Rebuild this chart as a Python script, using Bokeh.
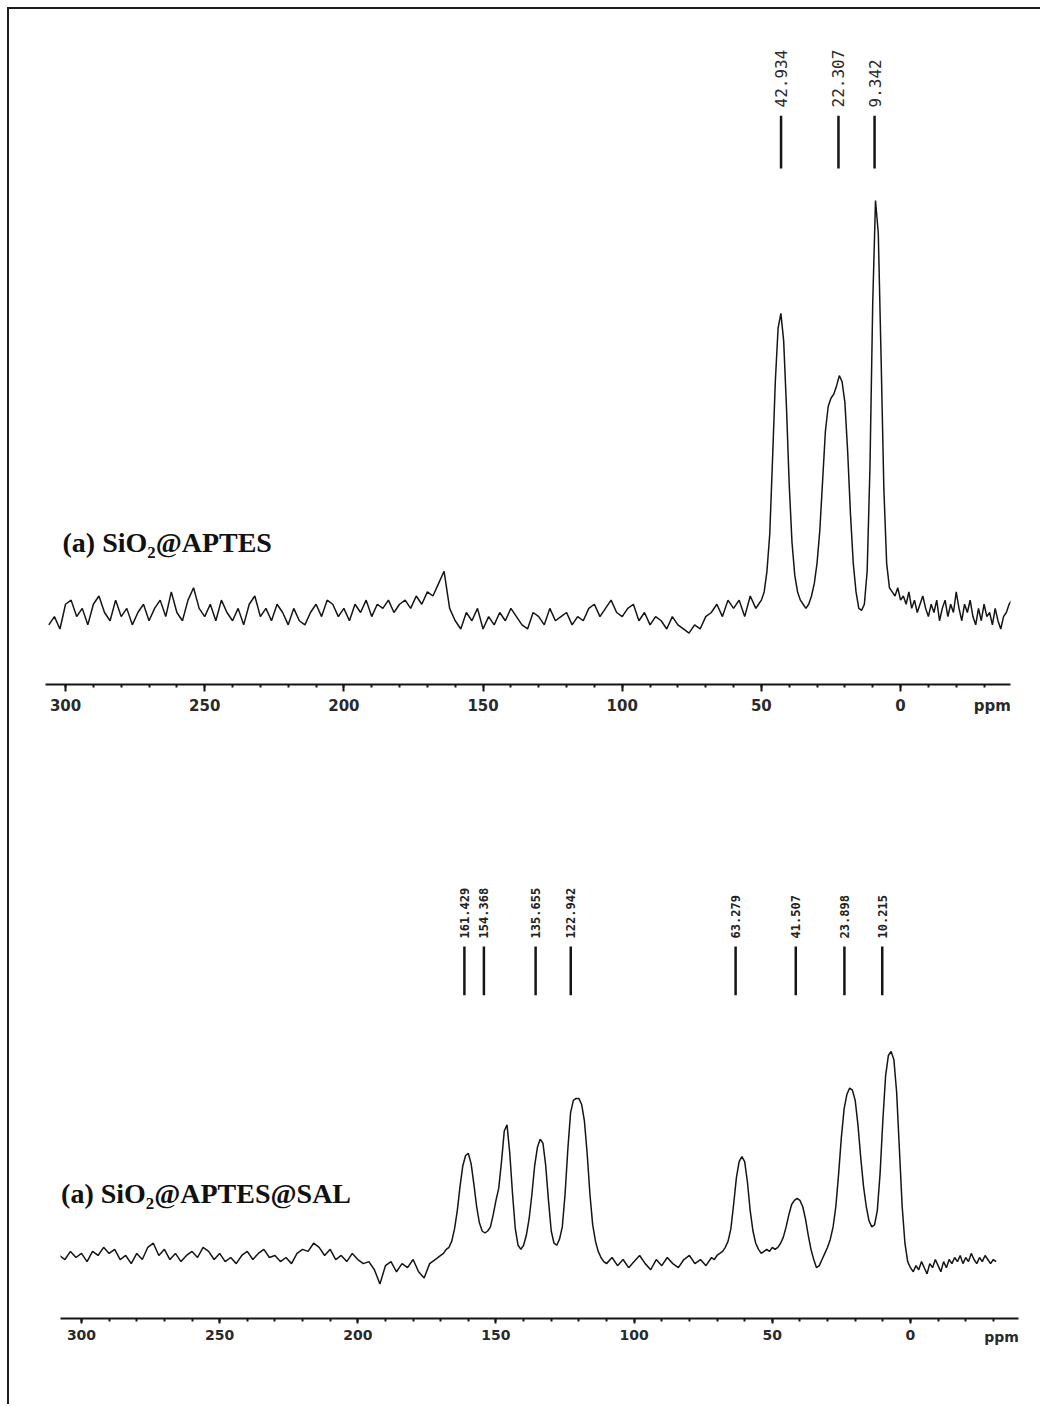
from math import pi

from bokeh.plotting import figure
from bokeh.models import Range1d, SingleIntervalTicker, FixedTicker, LinearAxis, Label
from bokeh.core.properties import value
from bokeh.embed import file_html
from bokeh.resources import INLINE

# ---------------------------------------------------------------- data
# 13C CP-MAS spectra, intensity normalised so the tallest peak = 100.
# Each spectrum is stored as segments: (first ppm, ppm step, intensities).

apt_seg1_start, apt_seg1_step = 306, 2
apt_seg1 = [
    -3, -1, -4, 2, 3, -1, 1, -3, 2, 4, 0, -2, 3, -1, 1, -3, 0, 2, -2, 1,
    3, -1, 5, 0, -2, 3, 6, 1, -1, 2, -2, 3, 0, -2, 1, -3, 2, 4, -1, 1,
    -2, 2, 0, -3, 1, -2, -3, 0, 2, -1, 3, 2, -1, 1, -2, 2, 0, 3, -1, 2,
    1, 3, 0, 2, 3, 1, 4, 2, 5, 4, 7, 10, 1, -2, -4, 0, -2, 1, -4, -1,
    -3, 0, -2, 1, -1, -3, -4, 0, -1, -3, 1, -2, -1, 0, -3, -1, -2, 1, 2, -1,
    1, 3, 0, -1, 1, 2, -2, 0, -3, -1, -2, -4, -1, -3, -4, -5, -3, -4, -1, 0,
    2, -1, 3, 1, 3, -1, 4, 1,
]
apt_seg2_start, apt_seg2_step = 51, 1
apt_seg2 = [
    2, 3, 5, 10, 19, 37, 56, 69, 72.6, 66, 50, 31, 17, 9, 5, 3, 2, 1, 2, 4,
    7, 12, 20, 32, 44, 50, 52, 53, 55, 57.5, 56, 51, 39, 24, 12, 5, 1, 0.5, 2, 10,
    35, 75, 100, 92, 62, 30, 12, 6, 5, 4, 6, 3, 4, 2, 5, 1, 3, 0, 2, 4,
    1, -1, 2, 0, 3, -2, 1, 3, -1, 2, 0, 5, 1, -2, 2, 0, 3, -1, -3, 1,
    -2, 2, -1, 0, -3, 1, -2, -4, -1, 0, 2, 3, 4,
]

sal_seg1_start, sal_seg1_step = 308, 2
sal_seg1 = [
    0, -2, 2, -1, 1, -3, 2, 0, 4, 1, 3, -2, 0, -4, 1, -2, 4, 6, 0, 3,
    -2, 1, -3, 0, 2, -1, 4, 2, -2, 1, -3, -1, -4, 0, 2, -2, 1, 3, -1, 0,
    -3, -1, -4, 1, 3, 2, 6, 4, 0, 3, -2, 0, -3, 1, -2, -4, -3, -7, -14, -5,
    -3, -8, -4, -6, -2, -8, -11, -4, -2, 0,
]
sal_seg2_start, sal_seg2_step = 169, 1
sal_seg2 = [
    1, 3, 4, 7, 13, 22, 34, 44, 49, 50, 45, 35, 24, 16, 12, 11, 12, 14, 20, 27,
    33, 46, 61, 64, 50, 30, 13, 5, 3, 5, 10, 18, 30, 44, 53, 57, 55, 44, 27, 12,
    6, 5, 8, 14, 30, 52, 70, 76, 77, 77, 74, 66, 50, 30, 15, 7, 2, -1, -3,
]
sal_seg3_start, sal_seg3_step = 110, 2
sal_seg3 = [-4, -1, -5, -2, -6, -3, 0, -4, -7, -2, -5, -1, -4, -6, -2, 0, -4, -2, -5, -1]
sal_seg4_start, sal_seg4_step = 71, 1
sal_seg4 = [
    -2, 0, 1, 2, 4, 7, 13, 25, 38, 46, 48.5, 46, 36, 22, 12, 6, 3, 1, 2, 3,
    2, 4, 3, 4, 6, 9, 14, 20, 25, 27, 28, 27, 24, 18, 10, 3, -2, -6, -5, -2,
    1, 4, 8, 14, 24, 40, 58, 72, 79, 82, 81, 76, 64, 48, 34, 24, 17, 14, 15, 22,
    40, 66, 88, 98, 100, 96, 80, 52, 24, 6, -3, -6, -8, -5, -7, -3, -6, -9, -4, -6,
    -2, -5, -8, -3, -6, -2, -4, -1, -3, 0, -4, -1, -3, 1, -2, -4, -1, -3, 0, -2,
    -4, -2, -3,
]

apt_peaks = [42.934, 22.307, 9.342]
apt_peak_labels = ["42.934", "22.307", "9.342"]
sal_peaks = [161.429, 154.368, 135.655, 122.942, 63.279, 41.507, 23.898, 10.215]
sal_peak_labels = ["161.429", "154.368", "135.655", "122.942", "63.279", "41.507", "23.898", "10.215"]

apt_name = "(a) SiO₂@APTES"
sal_name = "(a) SiO₂@APTES@SAL"

axis_unit = "ppm"
axis_unit_pos = -33


def expand(*segments):
    xs, ys = [], []
    for start, step, vals in segments:
        xs += [start - step * i for i in range(len(vals))]
        ys += list(vals)
    return xs, ys


apt_x, apt_y = expand((apt_seg1_start, apt_seg1_step, apt_seg1),
                      (apt_seg2_start, apt_seg2_step, apt_seg2))
sal_x, sal_y = expand((sal_seg1_start, sal_seg1_step, sal_seg1),
                      (sal_seg2_start, sal_seg2_step, sal_seg2),
                      (sal_seg3_start, sal_seg3_step, sal_seg3),
                      (sal_seg4_start, sal_seg4_step, sal_seg4))

INK = "#151515"
LABEL_INK = "#2a2a2a"
FRAME = "2px solid #1e1e1e"


def panel(width, height, xr, yr, borders, tick_font_size, tick_out, standoff, unit_standoff,
          margin, styles):
    p = figure(width=width, height=height, x_range=Range1d(*xr), y_range=Range1d(*yr),
               output_backend="svg", toolbar_location=None, y_axis_location=None,
               min_border_left=borders[0], min_border_right=borders[1],
               min_border_top=borders[2], min_border_bottom=borders[3],
               margin=margin, styles=styles)
    p.outline_line_color = None
    p.grid.visible = False
    p.background_fill_color = "white"
    p.border_fill_color = "white"

    # chemical-shift scale: line, major ticks every 50 ppm, minor every 10 ppm
    ax = p.xaxis[0]
    ax.ticker = SingleIntervalTicker(interval=50, num_minor_ticks=5)
    ax.axis_line_color = INK
    ax.axis_line_width = 2
    ax.major_tick_line_color = INK
    ax.major_tick_line_width = 2
    ax.major_tick_in = 0
    ax.major_tick_out = tick_out
    ax.minor_tick_line_color = INK
    ax.minor_tick_line_width = 2
    ax.minor_tick_in = 0
    ax.minor_tick_out = 3
    ax.major_label_text_font = "DejaVu Sans"
    ax.major_label_text_font_style = "bold"
    ax.major_label_text_font_size = tick_font_size
    ax.major_label_text_color = LABEL_INK
    ax.major_label_standoff = standoff

    # unit name at the right end, pulled up onto the row of tick numbers
    unit = LinearAxis(ticker=FixedTicker(ticks=[axis_unit_pos], minor_ticks=[]),
                      major_label_overrides={axis_unit_pos: axis_unit})
    unit.axis_line_color = None
    unit.major_tick_line_color = None
    unit.minor_tick_line_color = None
    unit.major_tick_in = 0
    unit.major_tick_out = 0
    unit.major_label_text_font = "DejaVu Sans"
    unit.major_label_text_font_style = "bold"
    unit.major_label_text_font_size = tick_font_size
    unit.major_label_text_color = LABEL_INK
    unit.major_label_standoff = unit_standoff
    p.add_layout(unit, "below")
    return p


# ---------------------------------------------------------------- upper: SiO2@APTES
top = panel(1033, 740, (307.2, -39.5), (-17.48, 143.7), (36, 32, 11, 65), "15px", 7, 7, -17,
            (7, 0, 0, 7), {"border-left": FRAME, "border-top": FRAME})
top.line(apt_x, apt_y, line_color=INK, line_width=1.5)
top.segment(x0=apt_peaks, y0=107.8, x1=apt_peaks, y1=120.6, line_color=INK, line_width=2.5)
top.text(x=apt_peaks, y=122.6, text=apt_peak_labels, angle=pi / 2,
         text_align="left", text_baseline="middle",
         text_font=value("DejaVu Sans Mono"), text_font_size="16px", text_color=LABEL_INK)
top.add_layout(Label(x=301.1, y=17, text=apt_name, text_align="left", text_baseline="middle",
                     text_font="Liberation Serif", text_font_style="bold", text_font_size="28px",
                     text_color="#111111"))

# ---------------------------------------------------------------- lower: SiO2@APTES@SAL
bottom = panel(1033, 657, (307.6, -39.1), (-30.9, 238.7), (51, 24, 21, 86), "14px", 5, 6, -14,
               (0, 0, 0, 7), {"border-left": FRAME})
bottom.line(sal_x, sal_y, line_color=INK, line_width=1.5)
bottom.segment(x0=sal_peaks, y0=127.5, x1=sal_peaks, y1=151.5, line_color=INK, line_width=2.5)
bottom.text(x=sal_peaks, y=155.4, text=sal_peak_labels, angle=pi / 2,
            text_align="left", text_baseline="middle",
            text_font=value("DejaVu Sans Mono"), text_font_style="bold",
            text_font_size="12px", text_color="#222222")
bottom.add_layout(Label(x=307.4, y=30.4, text=sal_name, text_align="left", text_baseline="middle",
                        text_font="Liberation Serif", text_font_style="bold", text_font_size="28px",
                        text_color="#111111"))

with open("out.html", "w") as f:
    f.write(file_html([top, bottom], INLINE))
